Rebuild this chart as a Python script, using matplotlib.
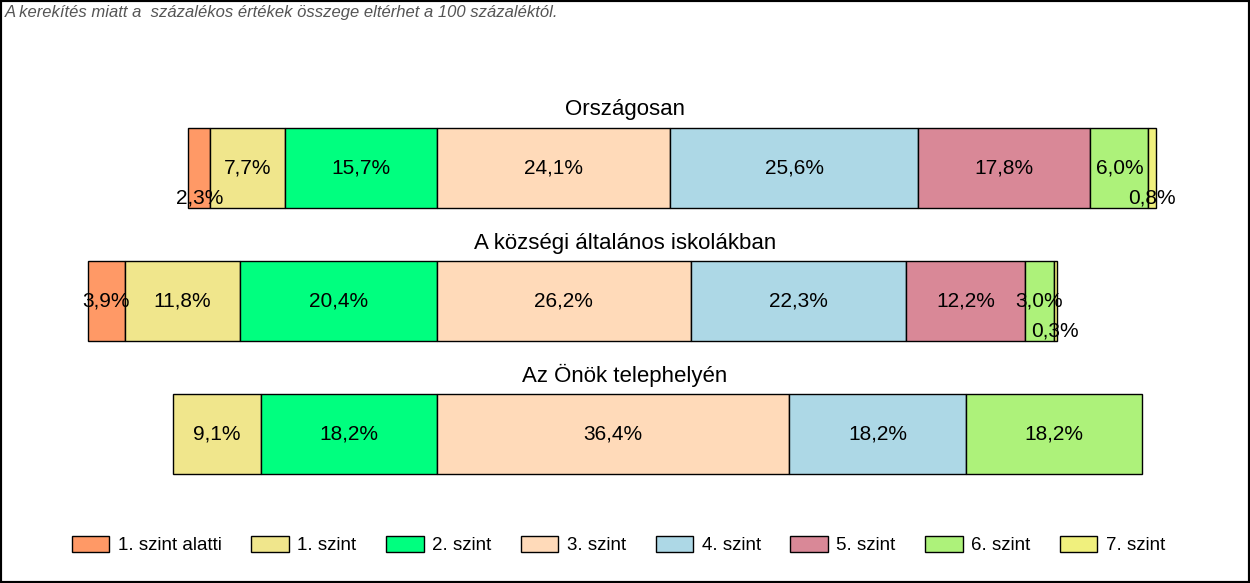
import matplotlib.pyplot as plt
from matplotlib.patches import Rectangle

plt.rcParams['font.family'] = ['Liberation Sans', 'DejaVu Sans']

levels = ["1. szint alatti", "1. szint", "2. szint", "3. szint",
          "4. szint", "5. szint", "6. szint", "7. szint"]
colors = ["#FF9966", "#F0E68C", "#00FF7F", "#FFDAB9",
          "#ADD8E6", "#D98897", "#ADF27A", "#F0F07D"]

groups = ["Országosan", "A községi általános iskolákban", "Az Önök telephelyén"]
orszagos = [2.3, 7.7, 15.7, 24.1, 25.6, 17.8, 6.0, 0.8]
kozsegi = [3.9, 11.8, 20.4, 26.2, 22.3, 12.2, 3.0, 0.3]
telephely = [0.0, 9.1, 18.2, 36.4, 18.2, 0.0, 18.2, 0.0]
values = [orszagos, kozsegi, telephely]

note = "A kerekítés miatt a  százalékos értékek összege eltérhet a 100 százaléktól."

W, H = 1250, 583
fig = plt.figure(figsize=(W / 100, H / 100), dpi=100)
ax = fig.add_axes([0, 0, 1, 1])

# x in percent, zero at the start of "3. szint"; y in pixel rows
px_per_pct = 9.68
zero_px = 437
ax.set_xlim(-zero_px / px_per_pct, (W - zero_px) / px_per_pct)
ax.set_ylim(H, 0)
ax.axis("off")

centers = [168, 301, 433.5]
bar_h = 80

for g, (name, vals) in enumerate(zip(groups, values)):
    yc = centers[g]
    left = -sum(vals[:3])
    for i, v in enumerate(vals):
        if v > 0:
            ax.barh(yc, v, left=left, height=bar_h, color=colors[i],
                    edgecolor="black", linewidth=1)
            ty = yc + 30 if v < 2.5 else yc  # tiny segments: label drops below
            ax.text(left + v / 2, ty, f"{v:.1f}%".replace(".", ","),
                    ha="center", va="center", fontsize=15)
        left += v
    fig.text(0.5, 1 - (yc - 58) / H, name, ha="center", va="center", fontsize=16)

fig.text(5 / W, 1 - 13 / H, note, ha="left", va="center", fontsize=12,
         style="italic", color="#555555")

handles = [Rectangle((0, 0), 1, 1, facecolor=c, edgecolor="black", linewidth=1)
           for c in colors]
fig.legend(handles, levels, loc="center", bbox_to_anchor=(618.5 / W, 1 - 545 / H),
           ncol=8, frameon=False, fontsize=13.5, handlelength=2.0,
           handleheight=1.0, handletextpad=0.45, columnspacing=1.58)

fig.patches.append(Rectangle((0, 0), 1, 1, transform=fig.transFigure,
                             fill=False, edgecolor="black", linewidth=3))

fig.savefig("out.png", dpi=100)
